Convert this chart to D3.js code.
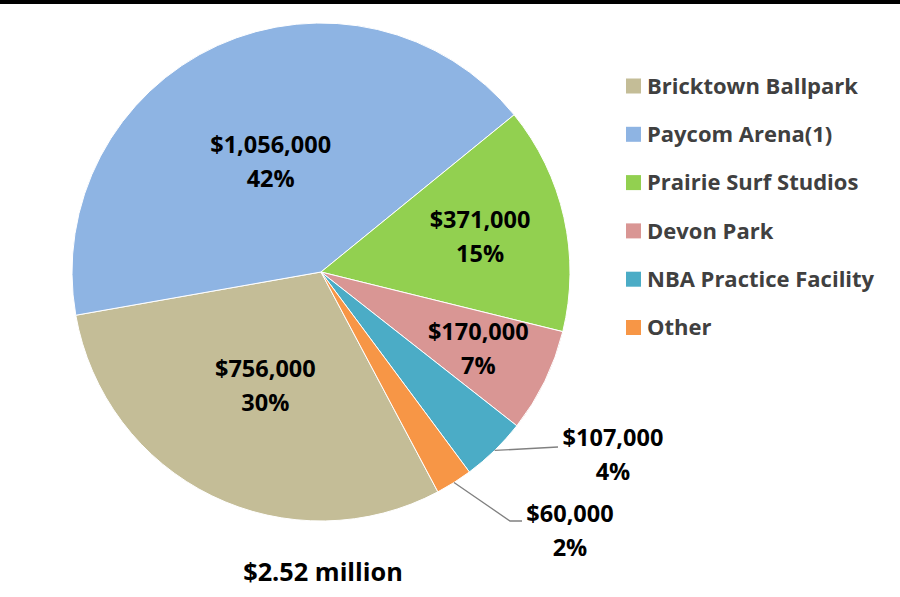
<!DOCTYPE html>
<html>
<head>
<meta charset="utf-8">
<script src="https://cdn.jsdelivr.net/npm/d3@7"></script>
<style>
  body { margin: 0; background: #fff; }
  svg { display: block; font-family: "Open Sans", sans-serif; font-weight: bold; }
</style>
</head>
<body>
<div id="chart"></div>
<script>
// data
var categories = ["Bricktown Ballpark", "Paycom Arena(1)", "Prairie Surf Studios", "Devon Park", "NBA Practice Facility", "Other"];
var values = [756000, 1056000, 371000, 170000, 107000, 60000];
var percents = ["30%", "42%", "15%", "7%", "4%", "2%"];
var colors = ["#C4BD97", "#8EB4E3", "#92D050", "#D99694", "#4BACC6", "#F79646"];
var totalLabel = "$2.52 million";

// layout
var width = 900, height = 597;
var cx = 321, cy = 272, radius = 249;
var startDeg = 152;
// label placement per slice: inside -> radius along mid angle, outside -> offset + leader
var labelPos = [
    { r: 127 },
    { r: 121 },
    { r: 163 },
    { r: 175 },
    { dx: 292, dy: 183, line: [[237, 175]] },
    { dx: 249, dy: 259, line: [[189, 249], [201, 249]] }
];

var svg = d3.select("#chart")
    .append("svg")
    .attr("width", width)
    .attr("height", height);

// top black band
svg.append("rect")
    .attr("x", 0).attr("y", 0)
    .attr("width", width).attr("height", 4)
    .attr("fill", "#000");

var pie = d3.pie()
    .sort(null)
    .value(function (d) { return d; })
    .startAngle(startDeg * Math.PI / 180)
    .endAngle(startDeg * Math.PI / 180 + 2 * Math.PI);

var arcs = pie(values);

var arc = d3.arc().innerRadius(0).outerRadius(radius);

var g = svg.append("g")
    .attr("transform", "translate(" + cx + "," + cy + ")");

g.selectAll("path")
    .data(arcs)
    .enter()
    .append("path")
    .attr("d", arc)
    .attr("fill", function (d, i) { return colors[i]; })
    .attr("stroke", "#fff")
    .attr("stroke-width", 1);

var fmt = d3.format("$,");

arcs.forEach(function (d, i) {
    var mid = (d.startAngle + d.endAngle) / 2;
    var p = labelPos[i];
    var x, y;
    if (p.line) {
        x = p.dx; y = p.dy;
        var pts = [[Math.sin(mid) * radius, -Math.cos(mid) * radius]].concat(p.line);
        g.append("path")
            .attr("d", d3.line()(pts))
            .attr("fill", "none")
            .attr("stroke", "#808080")
            .attr("stroke-width", 1.3);
    } else {
        x = Math.sin(mid) * p.r;
        y = -Math.cos(mid) * p.r;
    }
    var t = g.append("text")
        .attr("text-anchor", "middle")
        .attr("font-size", 23.5)
        .attr("fill", "#000");
    t.append("tspan").attr("x", x).attr("y", y - 17).attr("dy", "0.35em").text(fmt(values[i]));
    t.append("tspan").attr("x", x).attr("y", y + 17).attr("dy", "0.35em").text(percents[i]);
});

// total
svg.append("text")
    .attr("x", 323)
    .attr("y", 572)
    .attr("dy", "0.35em")
    .attr("text-anchor", "middle")
    .attr("font-size", 25.3)
    .attr("fill", "#000")
    .text(totalLabel);

// legend
var legend = svg.append("g")
    .attr("transform", "translate(626,86)");

var item = legend.selectAll("g")
    .data(categories)
    .enter()
    .append("g")
    .attr("transform", function (d, i) { return "translate(0," + (i * 48.3) + ")"; });

item.append("rect")
    .attr("x", 0).attr("y", -7.5)
    .attr("width", 15).attr("height", 15)
    .attr("fill", function (d, i) { return colors[i]; });

item.append("text")
    .attr("x", 21)
    .attr("y", 0)
    .attr("dy", "0.35em")
    .attr("font-size", 22)
    .attr("fill", "#404040")
    .text(function (d) { return d; });
</script>
</body>
</html>
